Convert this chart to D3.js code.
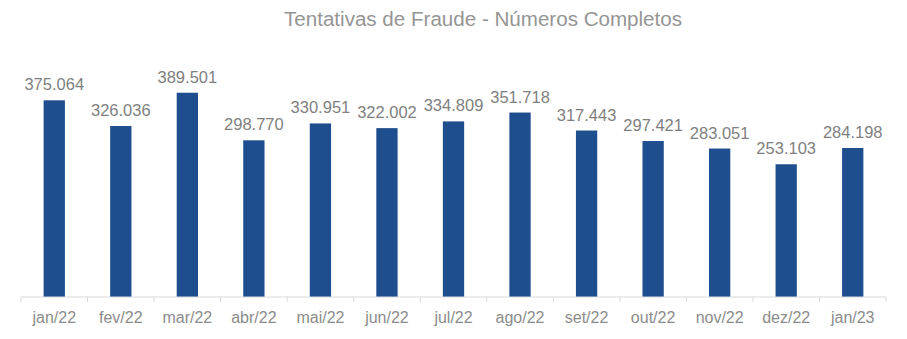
<!DOCTYPE html>
<html><head><meta charset="utf-8">
<script src="https://cdn.jsdelivr.net/npm/d3@7"></script>
<style>body{margin:0;background:#fff}svg{display:block}text{font-family:"Liberation Sans",Arial,sans-serif}</style>
</head><body><svg id="c" width="907" height="339"></svg>
<script>
const categories=["jan/22","fev/22","mar/22","abr/22","mai/22","jun/22","jul/22","ago/22","set/22","out/22","nov/22","dez/22","jan/23"];
const values=[375064,326036,389501,298770,330951,322002,334809,351718,317443,297421,283051,253103,284198];
const title="Tentativas de Fraude - Números Completos";
const svg=d3.select("#c");
const x=d3.scaleBand().domain(categories).range([21,886]).paddingInner(0.68).paddingOuter(0.34);
const y=d3.scaleLinear().domain([0,450000]).range([297,61]);
const fmt=v=>d3.format(",")(v).replace(/,/g,".");
svg.append("text").attr("x",483).attr("y",26).attr("text-anchor","middle").attr("font-size",20)
 .attr("textLength",398).attr("lengthAdjust","spacingAndGlyphs").attr("fill","#959595").text(title);
svg.selectAll("rect.bar").data(values).join("rect").attr("class","bar")
 .attr("x",(d,i)=>x(categories[i])).attr("width",x.bandwidth())
 .attr("y",d=>y(d)).attr("height",d=>y(0)-y(d)).attr("fill","#1f4e8f");
svg.selectAll("text.lbl").data(values).join("text").attr("class","lbl")
 .attr("x",(d,i)=>x(categories[i])+x.bandwidth()/2).attr("y",d=>y(d)-10)
 .attr("text-anchor","middle").attr("font-size",16.5).attr("fill","#7f7f7f").text(fmt);
const step=x.step();
const ax=svg.append("g").attr("transform","translate(0,297)");
ax.append("line").attr("x1",21).attr("x2",886).attr("stroke","#d9d9d9");
ax.selectAll("line.t").data(d3.range(categories.length+1)).join("line").attr("class","t")
 .attr("x1",i=>21+i*step).attr("x2",i=>21+i*step).attr("y1",0).attr("y2",5).attr("stroke","#d9d9d9");
ax.selectAll("text").data(categories).join("text").attr("x",d=>x(d)+x.bandwidth()/2).attr("y",26)
 .attr("text-anchor","middle").attr("font-size",16).attr("fill","#8c8c8c").text(d=>d);
</script></body></html>
